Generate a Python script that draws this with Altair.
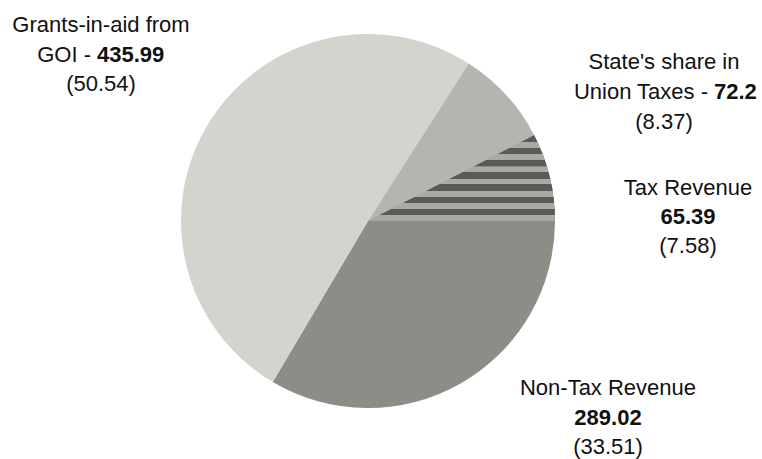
import altair as alt
import pandas as pd

# Data
categories = ["Non-Tax Revenue", "Grants-in-aid from GOI", "State's share in Union Taxes", "Tax Revenue"]
values = [289.02, 435.99, 72.2, 65.39]
shares = [33.51, 50.54, 8.37, 7.58]
fills = ["#8c8d87", "#d3d4cd", "#b4b5af", "#74756f"]

df = pd.DataFrame({"category": categories, "value": values, "share": shares,
                   "order": list(range(len(categories)))})

CX, CY, R = 368, 221, 187
FONT = "Liberation Sans"
FS = 22

# horizontal band texture for the "Tax Revenue" slice
n_bands = 7
dark, light = "#5a5b56", "#a9aaa4"
stops = []
for k in range(n_bands):
    a = k / n_bands
    b = (k + 0.55) / n_bands
    c = (k + 1) / n_bands
    stops += [{"offset": a, "color": light}, {"offset": a + 0.0001, "color": dark},
              {"offset": b, "color": dark}, {"offset": b + 0.0001, "color": light},
              {"offset": c - 0.0001, "color": light}]
stripes = {"gradient": "linear", "x1": 0, "y1": 0, "x2": 0, "y2": 1, "stops": stops}

theta = alt.Theta("value:Q", stack=True,
                  scale=alt.Scale(range=[1.5707963, 1.5707963 + 6.2831853]))

pie = alt.Chart(df).mark_arc(outerRadius=R, strokeWidth=0).encode(
    theta=theta,
    color=alt.Color("category:N", scale=alt.Scale(domain=categories, range=fills), legend=None),
    order=alt.Order("order:Q", sort="ascending"),
    x=alt.value(CX),
    y=alt.value(CY),
)

texture = alt.Chart(df).mark_arc(outerRadius=R, strokeWidth=0).encode(
    theta=theta,
    fill=alt.condition("datum.category === 'Tax Revenue'", alt.value(stripes), alt.value("transparent")),
    order=alt.Order("order:Q", sort="ascending"),
    x=alt.value(CX),
    y=alt.value(CY),
)

def txt(text, x, y, align="center", bold=False):
    return alt.Chart(pd.DataFrame({"t": [text]})).mark_text(
        font=FONT, fontSize=FS, align=align, baseline="alphabetic",
        fontWeight="bold" if bold else "normal", color="#111111",
    ).encode(text="t:N", x=alt.value(x), y=alt.value(y))

g_val = f"{values[1]:.2f}"
s_val = f"{values[2]:g}"
t_val = f"{values[3]:.2f}"
n_val = f"{values[0]:.2f}"

labels = [
    # Grants-in-aid
    txt("Grants-in-aid from", 101, 32),
    txt("GOI -", 91, 62, align="right"),
    txt(g_val, 97, 62, align="left", bold=True),
    txt(f"({shares[1]:.2f})", 101, 91),
    # State's share
    txt("State's share in", 664, 69),
    txt("Union Taxes -", 708, 99, align="right"),
    txt(s_val, 714, 99, align="left", bold=True),
    txt(f"({shares[2]:.2f})", 664, 129),
    # Tax revenue
    txt("Tax Revenue", 688, 195),
    txt(t_val, 688, 224, bold=True),
    txt(f"({shares[3]:.2f})", 688, 253),
    # Non-tax revenue
    txt("Non-Tax Revenue", 608, 395),
    txt(n_val, 608, 425, bold=True),
    txt(f"({shares[0]:.2f})", 608, 454),
]

chart = alt.layer(pie, texture, *labels).properties(
    width=762, height=459, padding=0, autosize="none", background="white"
).configure_view(stroke=None)

chart.save("out.html", embed_options={"renderer": "svg", "actions": False})
